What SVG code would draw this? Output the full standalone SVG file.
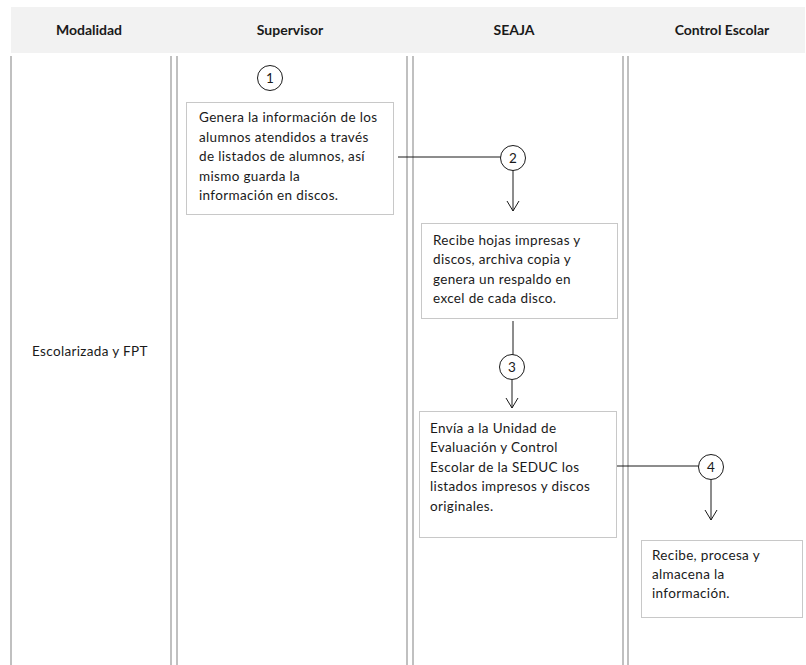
<svg xmlns="http://www.w3.org/2000/svg" width="806" height="665" viewBox="0 0 806 665">
  <style>
    .hdr { font-family: "Lato", "Liberation Sans", sans-serif; font-size: 14px; font-weight: bold; fill: #1a1a1a; text-anchor: middle; }
    .txt { font-family: "Lato", "Liberation Sans", sans-serif; font-size: 13.5px; letter-spacing: 0.35px; fill: #1a1a1a; }
    .num { font-family: "Lato", "Liberation Sans", sans-serif; font-size: 13.5px; fill: #1a1a1a; text-anchor: middle; }
    .lane { stroke: #c0c0c0; stroke-width: 2; }
    .box { fill: #ffffff; stroke: #c8c8c8; stroke-width: 1; }
    .circ { fill: #ffffff; stroke: #1a1a1a; stroke-width: 1; }
    .conn { stroke: #1a1a1a; stroke-width: 1; fill: none; }
  </style>
  <defs>
    <marker id="open-arrow" viewBox="0 0 12 14" refX="11" refY="7" markerWidth="12" markerHeight="14" markerUnits="userSpaceOnUse" orient="auto">
      <path d="M1,1 L11,7 L1,13" fill="none" stroke="#1a1a1a" stroke-width="1"/>
    </marker>
  </defs>
  <rect width="806" height="665" fill="#ffffff"/>

  <!-- header band -->
  <g id="header">
    <rect x="11" y="7" width="794" height="46" fill="#f2f2f2"/>
    <text class="hdr" x="89" y="35">Modalidad</text>
    <text class="hdr" x="290" y="35">Supervisor</text>
    <text class="hdr" x="514" y="35">SEAJA</text>
    <text class="hdr" x="722" y="35">Control Escolar</text>
  </g>

  <!-- lane separators -->
  <g id="lanes">
    <line class="lane" x1="11" y1="56" x2="11" y2="665"/>
    <line class="lane" x1="171" y1="56" x2="171" y2="665"/>
    <line class="lane" x1="177" y1="56" x2="177" y2="665"/>
    <line class="lane" x1="407" y1="56" x2="407" y2="665"/>
    <line class="lane" x1="413" y1="56" x2="413" y2="665"/>
    <line class="lane" x1="623" y1="56" x2="623" y2="665"/>
    <line class="lane" x1="628" y1="56" x2="628" y2="665"/>
  </g>

  <g id="modalidad">
    <text class="txt" x="32" y="356">Escolarizada y FPT</text>
  </g>

  <!-- connectors -->
  <g id="connectors">
    <line class="conn" x1="398" y1="157" x2="501" y2="157"/>
    <line class="conn" x1="513" y1="170" x2="513" y2="211" marker-end="url(#open-arrow)"/>
    <line class="conn" x1="513" y1="321" x2="513" y2="355"/>
    <line class="conn" x1="512" y1="380" x2="512" y2="408" marker-end="url(#open-arrow)"/>
    <line class="conn" x1="616" y1="466" x2="699" y2="466"/>
    <line class="conn" x1="711" y1="480" x2="711" y2="520" marker-end="url(#open-arrow)"/>
  </g>

  <g id="step1">
    <circle class="circ" cx="270" cy="78" r="12.5"/>
    <text class="num" x="270" y="83">1</text>
  </g>
  <g id="box1">
    <rect class="box" x="186.5" y="102.5" width="207" height="112"/>
    <text class="txt" x="199" y="122">Genera la información de los</text>
    <text class="txt" x="199" y="142">alumnos atendidos a través</text>
    <text class="txt" x="199" y="161">de listados de alumnos, así</text>
    <text class="txt" x="199" y="181">mismo guarda la</text>
    <text class="txt" x="199" y="200">información en discos.</text>
  </g>

  <g id="step2">
    <circle class="circ" cx="513" cy="158" r="12.5"/>
    <text class="num" x="513" y="163">2</text>
  </g>
  <g id="box2">
    <rect class="box" x="421.5" y="223.5" width="196" height="95"/>
    <text class="txt" x="433" y="245">Recibe hojas impresas y</text>
    <text class="txt" x="433" y="264">discos, archiva copia y</text>
    <text class="txt" x="433" y="284">genera un respaldo en</text>
    <text class="txt" x="433" y="303">excel de cada disco.</text>
  </g>

  <g id="step3">
    <circle class="circ" cx="512" cy="367" r="12.5"/>
    <text class="num" x="512" y="372">3</text>
  </g>
  <g id="box3">
    <rect class="box" x="419.5" y="411.5" width="197" height="126"/>
    <text class="txt" x="430" y="433">Envía a la Unidad de</text>
    <text class="txt" x="430" y="452">Evaluación y Control</text>
    <text class="txt" x="430" y="472">Escolar de la SEDUC los</text>
    <text class="txt" x="430" y="491">listados impresos y discos</text>
    <text class="txt" x="430" y="511">originales.</text>
  </g>

  <g id="step4">
    <circle class="circ" cx="711" cy="467" r="12.5"/>
    <text class="num" x="711" y="472">4</text>
  </g>
  <g id="box4">
    <rect class="box" x="641.5" y="540.5" width="161" height="77"/>
    <text class="txt" x="652" y="560">Recibe, procesa y</text>
    <text class="txt" x="652" y="579">almacena la</text>
    <text class="txt" x="652" y="598">información.</text>
  </g>
</svg>
